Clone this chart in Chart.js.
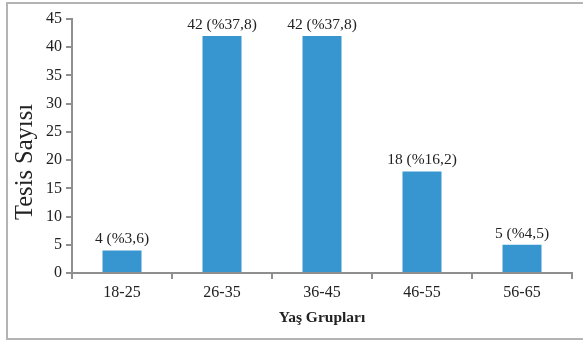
<!DOCTYPE html>
<html>
<head>
<meta charset="utf-8">
<script src="https://cdn.jsdelivr.net/npm/chart.js@4"></script>
<style>
  html, body { margin: 0; padding: 0; background: #fff; }
  #wrap { position: relative; width: 583px; height: 340px; overflow: hidden; }
  #frame { position: absolute; left: 6px; top: 2px; width: 600px; height: 334px; border: 2px solid #b4b4b4; box-sizing: content-box; }
  canvas { position: absolute; left: 0; top: 0; }
</style>
</head>
<body>
<div id="wrap">
  <div id="frame"></div>
  <canvas id="c" width="583" height="340"></canvas>
</div>
<script>
// Age groups and the number of facilities in each
const ageGroups = ['18-25', '26-35', '36-45', '46-55', '56-65'];
const facilityCounts = [4, 42, 42, 18, 5];
const shares = ['3,6', '37,8', '37,8', '16,2', '4,5'];
const yTicks = [0, 5, 10, 15, 20, 25, 30, 35, 40, 45];

const serif = '"Liberation Serif", "Times New Roman", serif';
const axisGray = '#8f8f8f';

// Writes "count (%share)" above each bar
const valueLabels = {
  id: 'valueLabels',
  afterDatasetsDraw(chart) {
    const ctx = chart.ctx;
    const meta = chart.getDatasetMeta(0);
    ctx.save();
    ctx.font = '15.5px ' + serif;
    ctx.fillStyle = '#222';
    ctx.textAlign = 'center';
    ctx.textBaseline = 'alphabetic';
    meta.data.forEach((bar, i) => {
      ctx.fillText(facilityCounts[i] + ' (%' + shares[i] + ')', bar.x, bar.y - 7);
    });
    ctx.restore();
  }
};

// Vertical axis title
const yTitle = {
  id: 'yTitle',
  afterDraw(chart) {
    const ctx = chart.ctx;
    ctx.save();
    ctx.translate(26, 162);
    ctx.rotate(-Math.PI / 2);
    ctx.font = '24.5px ' + serif;
    ctx.fillStyle = '#222';
    ctx.textAlign = 'center';
    ctx.textBaseline = 'middle';
    ctx.fillText('Tesis Sayısı', 0, 0);
    ctx.restore();
  }
};

new Chart(document.getElementById('c'), {
  type: 'bar',
  data: {
    labels: ageGroups,
    datasets: [{
      data: facilityCounts,
      backgroundColor: '#3796d0',
      borderWidth: 0,
      categoryPercentage: 1,
      barPercentage: 0.39
    }]
  },
  options: {
    responsive: false,
    animation: false,
    devicePixelRatio: 1,
    layout: { padding: { left: 0, right: 11, top: 19, bottom: 0 } },
    plugins: { legend: { display: false }, tooltip: { enabled: false } },
    scales: {
      x: {
        grid: { display: true, drawOnChartArea: false, offset: true, color: axisGray, lineWidth: 2, tickLength: 6 },
        border: { display: true, color: axisGray, width: 2 },
        ticks: { font: { family: serif, size: 16 }, color: '#222', padding: 4 },
        title: {
          display: true,
          text: 'Yaş Grupları',
          font: { family: serif, size: 15.5, weight: 'bold' },
          color: '#222',
          padding: { top: 0, bottom: 13 }
        },
        afterFit(scale) { scale.height = 67; }
      },
      y: {
        min: 0,
        max: 45,
        afterBuildTicks(scale) { scale.ticks = yTicks.map(v => ({ value: v })); },
        grid: { display: true, drawOnChartArea: false, color: axisGray, lineWidth: 2, tickLength: 6 },
        border: { display: true, color: axisGray, width: 2 },
        ticks: { font: { family: serif, size: 16 }, color: '#222', padding: 4 },
        afterFit(scale) { scale.width = 72; }
      }
    }
  },
  plugins: [valueLabels, yTitle]
});
</script>
</body>
</html>
